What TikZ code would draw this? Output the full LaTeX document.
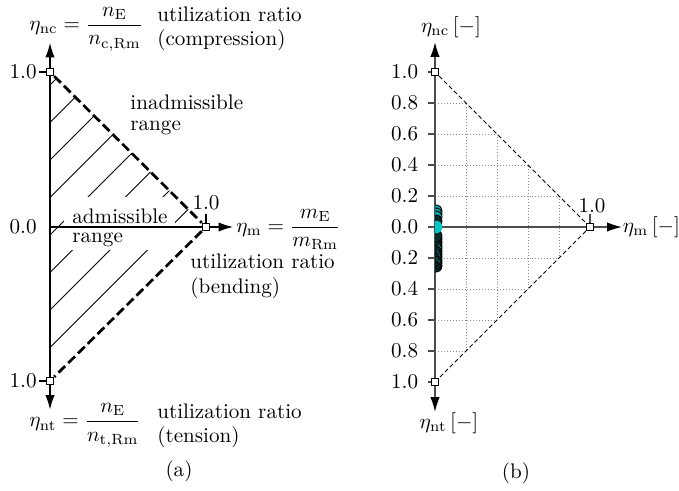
\documentclass[tikz,border=0pt]{standalone}
\usetikzlibrary{arrows.meta}
\definecolor{datacyan}{RGB}{0,200,200}
\definecolor{datadark}{RGB}{8,40,40}
\begin{document}
\begin{tikzpicture}[x=0.474pt,y=-0.474pt,
  lbl/.style={inner sep=0pt},
  marker/.style={draw=black,fill=white,line width=0.55pt,rectangle,minimum size=3.4pt,inner sep=0pt},
  axisA/.style={line width=0.9pt,-{Latex[length=7pt,width=4.4pt]}},
  axisB/.style={draw=black!70,line width=0.7pt,-{Latex[length=7pt,width=4.4pt,color=black]}},
  dashA/.style={line width=1.3pt,dash pattern=on 4.5pt off 2pt},
  dashB/.style={line width=0.45pt,dash pattern=on 2pt off 1.3pt},
  hatchA/.style={line width=0.4pt},
  gridB/.style={black!45,line width=0.4pt,densely dotted},
  tickA/.style={line width=0.6pt},
  tickB/.style={black!70,line width=0.7pt},
  blob/.style={draw=black,line width=0.4pt}
]
\useasboundingbox (0,0) rectangle (679,490);

% ================= (a) =================
\begin{scope}
  \clip (50,72) -- (206,227) -- (50,381) -- cycle;
  \foreach \c in {85,122.5,...,347.5} \draw[hatchA] (50,\c) -- ++(300,-300);
\end{scope}
\fill[white] (64,197) rectangle (175,250);

\coordinate (ao) at (50,227);
\coordinate (atop) at (50,42.5);
\coordinate (abot) at (50,410);
\coordinate (art) at (233.5,227);
\draw[axisA] (ao) -- (atop);
\draw[axisA] (ao) -- (abot);
\draw[axisA] (ao) -- (art);

\node[marker] (a1) at (50,72) {};
\node[marker] (a2) at (206,227) {};
\node[marker] (a3) at (50,381) {};
\draw[dashA] (a1) -- (a2);
\draw[dashA] (a2) -- (a3);
\draw[tickA] (a1.west) -- ++(-7,0);
\draw[tickA] (a3.west) -- ++(-7,0);
\draw[tickA] (a2.north) -- ++(0,-9);

\node[lbl,anchor=east] (la1) at (37,72) {1.0};
\node[lbl,anchor=east] (la0) at (37,227) {0.0};
\node[lbl,anchor=east] (la3) at (37,381) {1.0};
\node[lbl] (la2) at (206,203) {1.0};

\node[lbl,anchor=west] (eqnc) at (29,29) {$\eta_{\mathrm{nc}} = \displaystyle\frac{n_{\mathrm{E}}}{n_{\mathrm{c,Rm}}}$};
\node[lbl,anchor=base west] (ur1) at (157,21.5) {utilization ratio};
\node[lbl,anchor=base west] (ur1b) at (157,45.5) {(compression)};

\node[lbl,anchor=base west] (inad) at (130,110) {inadmissible};
\node[lbl,anchor=base west] (inadr) at (130,130.5) {range};
\node[lbl,anchor=base west] (adm) at (72,223) {admissible};
\node[lbl,anchor=base west] (admr) at (72,242) {range};

\node[lbl,anchor=west] (eqm) at (236,229.5) {$\eta_{\mathrm{m}} = \displaystyle\frac{m_{\mathrm{E}}}{m_{\mathrm{Rm}}}$};
\node[lbl,anchor=base west] (ur2) at (190,268) {utilization ratio};
\node[lbl,anchor=base west] (ur2b) at (190,293) {(bending)};

\node[lbl,anchor=west] (eqnt) at (29,425.5) {$\eta_{\mathrm{nt}} = \displaystyle\frac{n_{\mathrm{E}}}{n_{\mathrm{t,Rm}}}$};
\node[lbl,anchor=base west] (ur3) at (157,418) {utilization ratio};
\node[lbl,anchor=base west] (ur3b) at (157,442) {(tension)};

\node[lbl] (capa) at (179,471) {(a)};

% ================= (b) =================
\begin{scope}
  \clip (435,72) -- (590,227) -- (435,382) -- cycle;
  \foreach \v in {31,62,93,124} {
    \draw[gridB] (435,{227-\v}) -- (600,{227-\v});
    \draw[gridB] (435,{227+\v}) -- (600,{227+\v});
    \draw[gridB] ({435+\v},60) -- ({435+\v},400);
  }
\end{scope}

\foreach \v/\t in {-155/1.0,-124/0.8,-93/0.6,-62/0.4,-31/0.2,0/0.0,31/0.2,62/0.4,93/0.6,124/0.8,155/1.0} {
  \draw[tickB] (428,{227+\v}) -- (435,{227+\v});
  \node[lbl,anchor=east] at (418.5,{227+\v}) {\t};
}

\coordinate (bo) at (435,227);
\coordinate (btop) at (435,42);
\coordinate (bbot) at (435,412);
\coordinate (brt) at (622,227);
\draw[axisB] (bo) -- (btop);
\draw[axisB] (bo) -- (bbot);
\draw[axisB] (bo) -- (brt);

% data cluster
\begin{scope}
  \clip (435,200) rectangle (452,280);
  \foreach \yy in {266,263,...,236} \draw[blob,fill=datadark] (436,\yy) circle[radius=6];
  \draw[datacyan!70!black,line width=0.3pt] (437,250) -- (440,256) (436,258) -- (440,262) (438,244) -- (441,248);
  \foreach \yy in {211,214,217} \draw[blob,fill=datacyan!85!black] (436,\yy) circle[radius=6];
  \draw[blob,fill=datadark] (436,221) circle[radius=6];
  \fill[datacyan] (436,227) circle[radius=6.3];
\end{scope}

\node[marker] (b1) at (435,72) {};
\node[marker] (b2) at (590,227) {};
\node[marker] (b3) at (435,382) {};
\draw[dashB] (b1) -- (b2);
\draw[dashB] (b2) -- (b3);
\draw[tickB] (b2.north) -- ++(0,-9);
\node[lbl] (lb2) at (592,206) {1.0};

\node[lbl] (enc) at (451,27.5) {$\eta_{\mathrm{nc}}\,[-]$};
\node[lbl,anchor=west] (em) at (622.5,227) {$\eta_{\mathrm{m}}\,[-]$};
\node[lbl] (ent) at (449,423) {$\eta_{\mathrm{nt}}\,[-]$};
\node[lbl] (capb) at (516,473) {(b)};
\end{tikzpicture}
\end{document}
